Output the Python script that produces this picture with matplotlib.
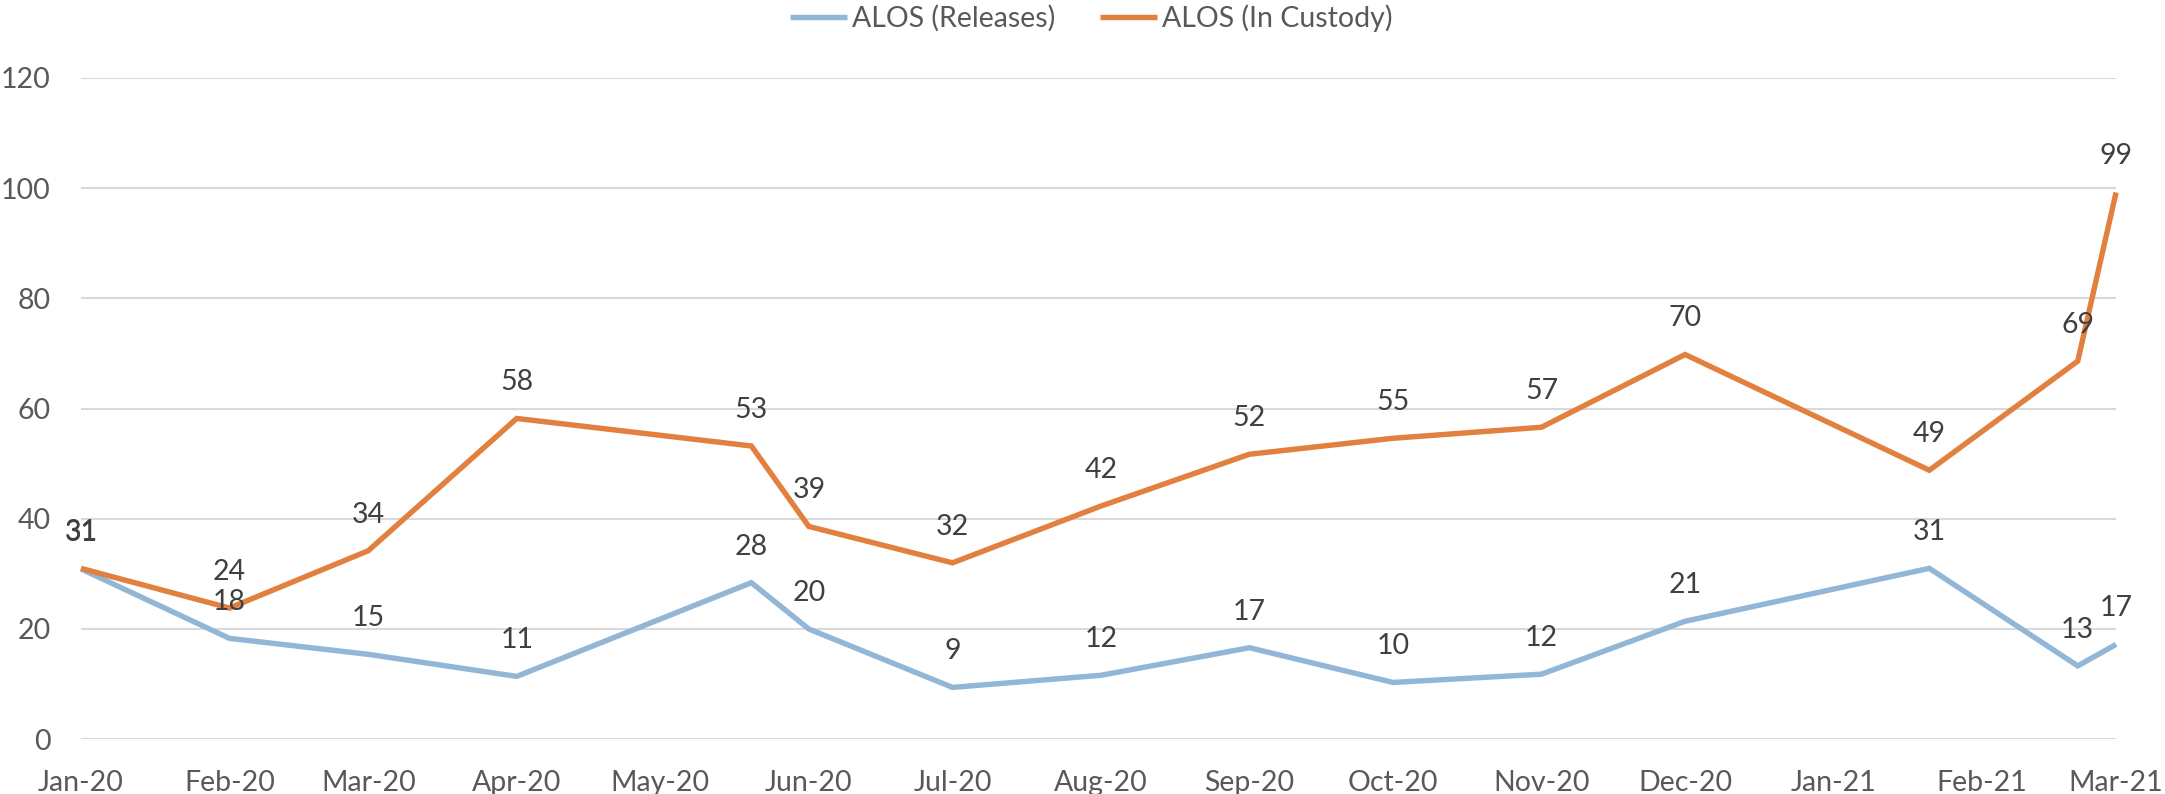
import matplotlib
matplotlib.use("Agg")
import matplotlib.pyplot as plt
import matplotlib.dates as mdates
import numpy as np

# data
dates = ["2020-01-01", "2020-02-01", "2020-03-01", "2020-04-01", "2020-05-20",
         "2020-06-01", "2020-07-01", "2020-08-01", "2020-09-01", "2020-10-01",
         "2020-11-01", "2020-12-01", "2021-01-21", "2021-02-21", "2021-03-01"]
alos_releases = [30.9, 18.3, 15.4, 11.4, 28.4, 20.0, 9.4, 11.6, 16.6, 10.3,
                 11.8, 21.4, 31.0, 13.3, 17.2]
alos_custody = [31.0, 23.8, 34.2, 58.2, 53.2, 38.6, 32.0, 42.3, 51.7, 54.6,
                56.6, 69.8, 48.8, 68.6, 99.2]
series_names = ["ALOS (Releases)", "ALOS (In Custody)"]
colors = ["#92B6D6", "#E2803F"]

plt.rcParams["font.family"] = ["Lato", "DejaVu Sans"]
x = np.array(dates, dtype="datetime64[D]")

fig = plt.figure(figsize=(21.65, 7.94), dpi=100)
ax = fig.add_axes([0.0374, 0.069, 0.940, 0.833])

for vals, name, c in zip([alos_releases, alos_custody], series_names, colors):
    ax.plot(x, vals, color=c, lw=3.9, label=name, solid_joinstyle="miter",
            solid_capstyle="butt", clip_on=False, zorder=3)
    for xi, v in zip(x, vals):
        ax.annotate(f"{v:.0f}", (xi, v), xytext=(0, 26), textcoords="offset points",
                    ha="center", va="center", fontsize=20.5, color="#404040", zorder=4)

ax.set_ylim(0, 120)
ax.set_yticks(range(0, 121, 20))
ax.set_xlim(np.datetime64("2020-01-01"), np.datetime64("2021-03-01"))
ax.xaxis.set_major_locator(mdates.MonthLocator())
ax.xaxis.set_major_formatter(mdates.DateFormatter("%b-%y"))

ax.grid(axis="y", color="#D9D9D9", lw=1.5)
ax.set_axisbelow(True)
for s in ax.spines.values():
    s.set_visible(False)
ax.tick_params(axis="both", length=0, labelsize=20.5, labelcolor="#595959")
ax.tick_params(axis="y", pad=22)
ax.tick_params(axis="x", pad=22)

fig.legend(loc="center", bbox_to_anchor=(0.504, 0.977), ncol=2, frameon=False,
           fontsize=20.5, labelcolor="#595959", handlelength=2.0,
           handletextpad=0.15, columnspacing=1.6)

fig.savefig("out.png", dpi=100)
